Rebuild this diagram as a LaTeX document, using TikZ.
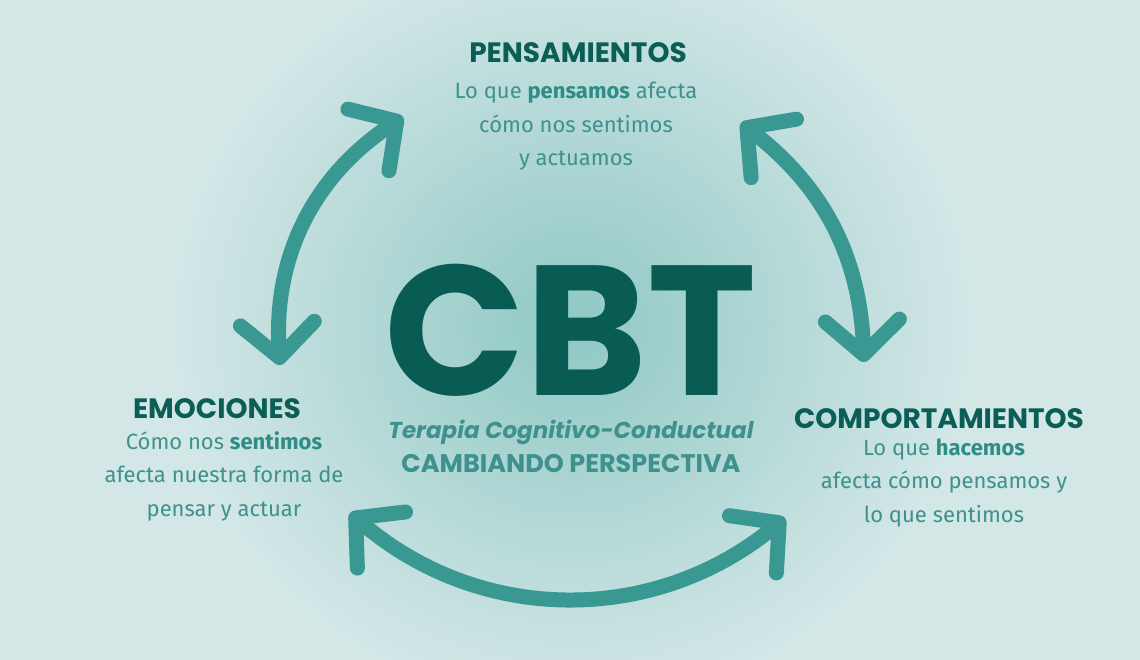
\documentclass[tikz,border=0pt]{standalone}
\usepackage{fontspec}
\setmainfont{Fira Sans}
\newfontfamily\headfont{Poppins}
\usetikzlibrary{arrows.meta}
\definecolor{bg}{HTML}{D3E7E7}
\definecolor{glow}{HTML}{8FC8C4}
\definecolor{arrowc}{HTML}{3A9892}
\definecolor{dark}{HTML}{0B5E56}
\definecolor{cbtc}{HTML}{085C53}
\definecolor{bodyc}{HTML}{3E918C}
\definecolor{hl}{HTML}{2F8D87}
\newcommand{\hlw}[1]{{\color{hl}\bfseries #1}}
\tikzset{barbtip/.tip={Straight Barb[length=34pt,width=74pt,line cap=round,line join=round]}}
\begin{document}
\begin{tikzpicture}[x=1pt,y=-1pt,
  head/.style={font=\headfont\bfseries\fontsize{28}{32}\selectfont, text=dark, inner sep=0pt, anchor=base},
  body/.style={font=\fontsize{22}{33.5}\selectfont, text=bodyc, align=center, inner sep=0pt, anchor=base},
  cyc/.style={draw=arrowc, line width=15pt, line cap=round, {barbtip}-{barbtip}}
]
\useasboundingbox (0,0) rectangle (1140,660);
\clip (0,0) rectangle (1140,660);
\fill[bg] (0,0) rectangle (1140,660);
\shade[inner color=glow, outer color=bg] (572,325) ellipse [x radius=400, y radius=380];

% connector end points
\coordinate (l1) at (280,365);
\coordinate (l2) at (403,117);
\coordinate (r1) at (741,123);
\coordinate (r2) at (864,362);
\coordinate (b1) at (350,513);
\coordinate (b2) at (785,518);

\draw[cyc] (l1) to[bend left=30] (l2);
\draw[cyc] (r1) to[bend left=25] (r2);
\draw[cyc] (b1) to[bend right=40] (b2);

% centre
\node[font=\headfont\bfseries\fontsize{185}{185}\selectfont, text=cbtc, inner sep=0pt, anchor=base, text depth=0pt] (cbt) at (571,395) {CBT};
\node[font=\headfont\bfseries\itshape\fontsize{23}{28}\selectfont, text=bodyc, inner sep=0pt, anchor=base, text depth=6pt] (sub) at (571,438) {Terapia Cognitivo-Conductual};
\node[font=\headfont\bfseries\fontsize{25.5}{30}\selectfont, text=bodyc, inner sep=0pt, anchor=base, text height=18pt] (persp) at (571,472) {CAMBIANDO PERSPECTIVA};

% top
\node[head] (pens) at (578,63) {PENSAMIENTOS};
\node[body] (pensb) at (576,166) {Lo que \hlw{pensamos} afecta\\cómo nos sentimos\\y actuamos};

% left
\node[head] (emo) at (217,418) {EMOCIONES};
\node[body] (emob) at (224,516) {Cómo nos \hlw{sentimos}\\afecta nuestra forma de\\pensar y actuar};

% right
\node[head] (comp) at (939,428) {COMPORTAMIENTOS};
\node[body] (compb) at (944,522) {Lo que \hlw{hacemos}\\afecta cómo pensamos y\\lo que sentimos};
\end{tikzpicture}
\end{document}
